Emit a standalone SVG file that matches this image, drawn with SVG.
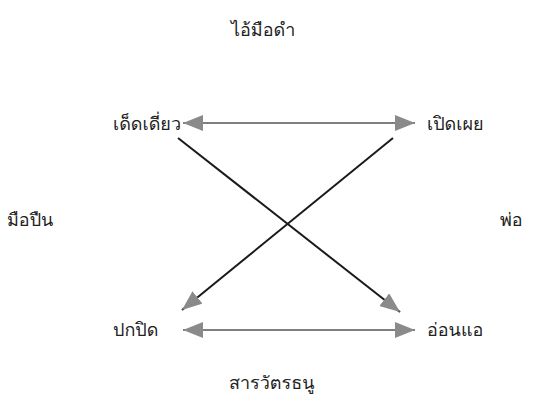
<svg xmlns="http://www.w3.org/2000/svg" width="540" height="402" viewBox="0 0 540 402">
<style>
.t{font-family:"Loma","Garuda","Noto Sans Thai Looped","Noto Sans Thai","Tahoma","Noto Sans","DejaVu Sans",sans-serif;font-size:18px;fill:#222}
.h{stroke:#555;stroke-width:1.6;fill:none}
.d{stroke:#1a1a1a;stroke-width:2;fill:none}
</style>
<defs>
<marker id="ah" markerUnits="userSpaceOnUse" markerWidth="22" markerHeight="18" refX="20" refY="8" orient="auto-start-reverse" viewBox="0 0 22 18">
<path d="M0,0 L20,8 L0,16 Z" fill="#8a8a8a"/>
</marker>
</defs>
<rect width="540" height="402" fill="#ffffff"/>
<g id="connectors">
<line class="h" x1="183" y1="123" x2="415" y2="123" marker-start="url(#ah)" marker-end="url(#ah)"/>
<line class="h" x1="183" y1="330" x2="415" y2="330" marker-start="url(#ah)" marker-end="url(#ah)"/>
<line class="d" x1="178" y1="138" x2="400" y2="312" marker-end="url(#ah)"/>
<line class="d" x1="393" y1="138" x2="182" y2="310" marker-end="url(#ah)"/>
</g>
<g id="n-top"><text class="t" x="231" y="36">ไอ้มือดำ</text></g>
<g id="n-tl"><text class="t" x="113" y="130">เด็ดเดี่ยว</text></g>
<g id="n-tr"><text class="t" x="427" y="130">เปิดเผย</text></g>
<g id="n-left"><text class="t" x="7" y="226">มือปืน</text></g>
<g id="n-right"><text class="t" x="500" y="226">พ่อ</text></g>
<g id="n-bl"><text class="t" x="113" y="336">ปกปิด</text></g>
<g id="n-br"><text class="t" x="427" y="336">อ่อนแอ</text></g>
<g id="n-bottom"><text class="t" x="229" y="389">สารวัตรธนู</text></g>
</svg>
